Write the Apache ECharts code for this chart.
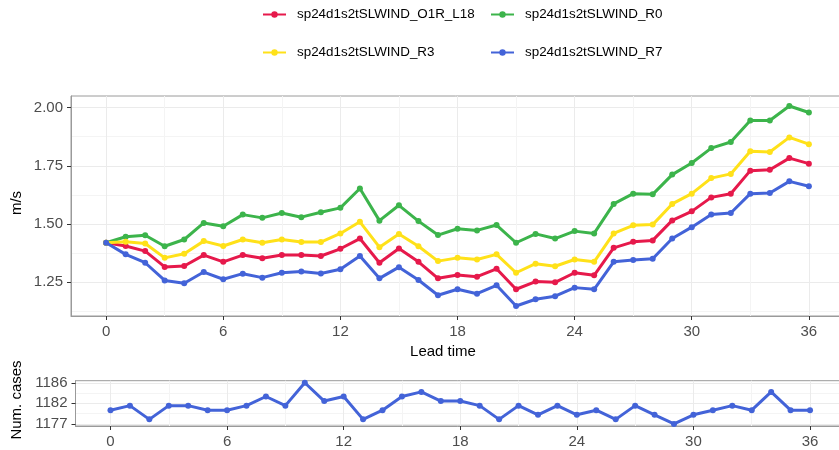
<!DOCTYPE html>
<html>
<head>
<meta charset="utf-8">
<script src="https://cdn.jsdelivr.net/npm/echarts@6/dist/echarts.min.js"></script>
<style>
html,body{margin:0;padding:0;background:#fff;}
#chart{width:839px;height:450px;}
</style>
</head>
<body>
<div id="chart"></div>
<script>
// ---- data ----
var leadTimes = [0,1,2,3,4,5,6,7,8,9,10,11,12,13,14,15,16,17,18,19,20,21,22,23,24,25,26,27,28,29,30,31,32,33,34,35,36];
var seriesNames = ['sp24d1s2tSLWIND_O1R_L18','sp24d1s2tSLWIND_R0','sp24d1s2tSLWIND_R3','sp24d1s2tSLWIND_R7'];
var valuesO1R_L18 = [1.419,1.405,1.383,1.315,1.319,1.366,1.337,1.366,1.352,1.366,1.366,1.362,1.393,1.437,1.333,1.394,1.337,1.266,1.280,1.273,1.307,1.219,1.252,1.249,1.290,1.279,1.397,1.423,1.429,1.515,1.554,1.614,1.630,1.729,1.733,1.783,1.759];
var valuesR0 = [1.419,1.445,1.451,1.404,1.433,1.504,1.490,1.540,1.526,1.547,1.529,1.550,1.569,1.652,1.514,1.580,1.512,1.452,1.479,1.472,1.495,1.419,1.457,1.437,1.469,1.459,1.586,1.630,1.627,1.712,1.762,1.826,1.852,1.945,1.945,2.007,1.979];
var valuesR3 = [1.419,1.423,1.416,1.354,1.372,1.426,1.405,1.433,1.419,1.433,1.422,1.422,1.459,1.509,1.400,1.457,1.404,1.340,1.354,1.347,1.369,1.290,1.329,1.318,1.347,1.337,1.459,1.494,1.497,1.586,1.630,1.697,1.715,1.812,1.809,1.872,1.843];
var valuesR7 = [1.419,1.369,1.333,1.257,1.245,1.293,1.262,1.286,1.269,1.290,1.295,1.287,1.305,1.362,1.266,1.314,1.259,1.193,1.219,1.200,1.236,1.147,1.176,1.189,1.226,1.219,1.337,1.345,1.350,1.437,1.486,1.540,1.547,1.630,1.633,1.683,1.662];
var numCases = [1180,1181,1178,1181,1181,1180,1180,1181,1183,1181,1186,1182,1183,1178,1180,1183,1184,1182,1182,1181,1178,1181,1179,1181,1179,1180,1178,1181,1179,1177,1179,1180,1181,1180,1184,1180,1180];

var xTicks = [0,6,12,18,24,30,36];
var xMinor = [3,9,15,21,27,33];
var yTicks = [1.25,1.5,1.75,2.0];
var yMinor = [1.125,1.375,1.625,1.875];
var casesTicks = [1177,1181.5,1186];
var casesMinor = [1179.25,1183.75];

var colors = ['#E6194B','#3CB44B','#FFE119','#4363D8'];

// ---- chart ----
var FONT = 'Liberation Sans, Arial, sans-serif';
var chart = echarts.init(document.getElementById('chart'), null, {renderer:'canvas'});

function pairs(xs, ys){ return xs.map(function(x,i){return [x, ys[i]];}); }

var mainVals = [valuesO1R_L18, valuesR0, valuesR3, valuesR7];

var series = mainVals.map(function(v,i){
  return {
    name: seriesNames[i], type:'line', xAxisIndex:0, yAxisIndex:0,
    data: pairs(leadTimes, v), color: colors[i],
    symbol:'circle', symbolSize:6, showSymbol:true,
    lineStyle:{width:3, color:colors[i]}, itemStyle:{color:colors[i]},
    emphasis:{disabled:true}, animation:false, z:3+i
  };
});
series.push({
  name:'cases', type:'line', xAxisIndex:2, yAxisIndex:2,
  data: pairs(leadTimes, numCases), color:'#4363D8',
  symbol:'circle', symbolSize:6, lineStyle:{width:3,color:'#4363D8'}, itemStyle:{color:'#4363D8'},
  emphasis:{disabled:true}, animation:false, z:3
});

var tickLabel = {color:'#4D4D4D', fontSize:15, fontFamily:FONT};
function majorX(grid){
  return {
    type:'value', gridIndex:grid, min:-1.8, max:37.8,
    axisLine:{show:true, onZero:false, lineStyle:{color:'#9a9a9a', width:1}},
    axisTick:{show:true, length:4, customValues:xTicks, lineStyle:{color:'#333', width:1}},
    axisLabel:Object.assign({customValues:xTicks, margin:8}, tickLabel),
    splitLine:{show:true, lineStyle:{color:'#EBEBEB', width:1}}
  };
}
function minorX(grid){
  return {
    type:'value', gridIndex:grid, min:-1.8, max:37.8,
    axisLine:{show:false}, axisTick:{show:false, customValues:xMinor},
    axisLabel:{show:false, customValues:xMinor},
    splitLine:{show:true, lineStyle:{color:'#F4F4F4', width:1}}
  };
}

var option = {
  backgroundColor:'#fff',
  animation:false,
  legend: [
    {data:[seriesNames[0]], left:262, top:8},
    {data:[seriesNames[1]], left:490, top:8},
    {data:[seriesNames[2]], left:262, top:46},
    {data:[seriesNames[3]], left:490, top:46}
  ].map(function(l){
    return Object.assign(l, {
      orient:'horizontal', padding:0, itemWidth:23, itemHeight:8, selectedMode:false,
      textStyle:{color:'#000', fontSize:13.4, fontFamily:FONT, padding:[0,0,0,6]}
    });
  }),
  grid: [
    {left:71, top:96, width:773, height:220, show:true, borderColor:'#9a9a9a', borderWidth:1, containLabel:false, outerBoundsMode:'none'},
    {left:75.5, top:380.7, width:769.5, height:45.3, show:true, borderColor:'#9a9a9a', borderWidth:1, containLabel:false, outerBoundsMode:'none'}
  ],
  xAxis: [ majorX(0), minorX(0), majorX(1), minorX(1) ],
  yAxis: [
    {type:'value', gridIndex:0, min:1.104, max:2.05,
     axisLine:{show:true, onZero:false, lineStyle:{color:'#9a9a9a'}},
     axisTick:{show:true, length:4, customValues:yTicks, lineStyle:{color:'#333'}},
     axisLabel:Object.assign({customValues:yTicks, margin:8, formatter:function(v){return v.toFixed(2);}}, tickLabel),
     splitLine:{show:true, lineStyle:{color:'#EBEBEB', width:1}}},
    {type:'value', gridIndex:0, min:1.104, max:2.05, position:'left',
     axisLine:{show:false}, axisTick:{show:false, customValues:yMinor}, axisLabel:{show:false, customValues:yMinor},
     splitLine:{show:true, lineStyle:{color:'#F4F4F4', width:1}}},
    {type:'value', gridIndex:1, min:1176.55, max:1186.45,
     axisLine:{show:true, onZero:false, lineStyle:{color:'#9a9a9a'}},
     axisTick:{show:true, length:4, customValues:casesTicks, lineStyle:{color:'#333'}},
     axisLabel:Object.assign({customValues:casesTicks, margin:8, formatter:function(v){return String(Math.round(v));}}, tickLabel),
     splitLine:{show:true, lineStyle:{color:'#EBEBEB', width:1}}},
    {type:'value', gridIndex:1, min:1176.55, max:1186.45, position:'left',
     axisLine:{show:false}, axisTick:{show:false, customValues:casesMinor}, axisLabel:{show:false, customValues:casesMinor},
     splitLine:{show:true, lineStyle:{color:'#F4F4F4', width:1}}}
  ],
  graphic: [
    {type:'text', x:443, y:352, style:{text:'Lead time', fill:'#000', fontSize:15, fontFamily:FONT, textAlign:'center', textVerticalAlign:'middle'}},
    {type:'text', x:17, y:203, rotation:Math.PI/2, style:{text:'m/s', x:0, y:0, fill:'#000', fontSize:15, fontFamily:FONT, textAlign:'center', textVerticalAlign:'middle'}},
    {type:'text', x:17, y:400, rotation:Math.PI/2, style:{text:'Num. cases', x:0, y:0, fill:'#000', fontSize:15, fontFamily:FONT, textAlign:'center', textVerticalAlign:'middle'}}
  ],
  series: series
};
chart.setOption(option);
</script>
</body>
</html>
